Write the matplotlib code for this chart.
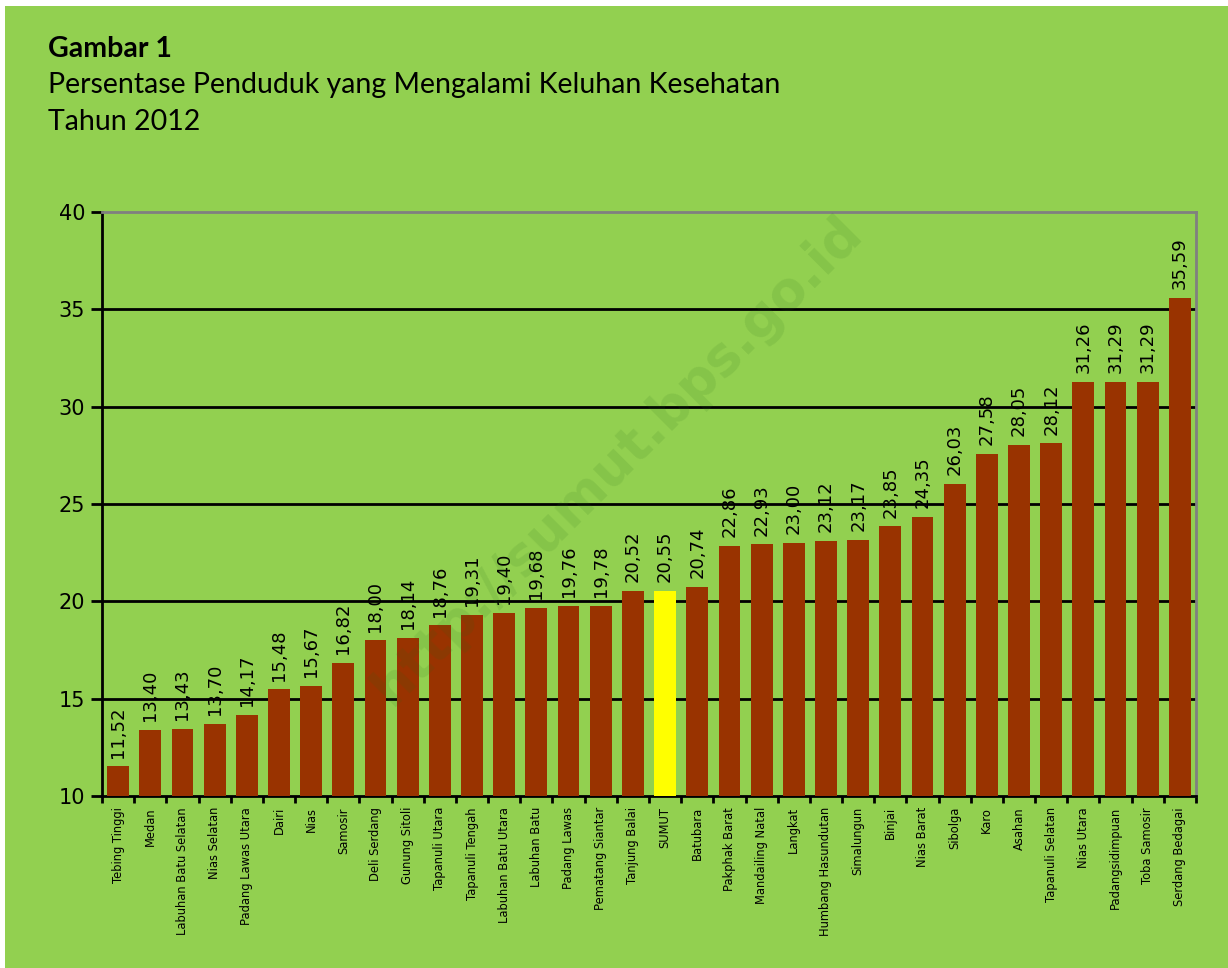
import matplotlib
matplotlib.use('Agg')
import matplotlib.pyplot as plt
from matplotlib.patches import Rectangle
import numpy as np

regions = ['Tebing Tinggi', 'Medan', 'Labuhan Batu Selatan', 'Nias Selatan',
           'Padang Lawas Utara', 'Dairi', 'Nias', 'Samosir', 'Deli Serdang',
           'Gunung Sitoli', 'Tapanuli Utara', 'Tapanuli Tengah',
           'Labuhan Batu Utara', 'Labuhan Batu', 'Padang Lawas',
           'Pematang Siantar', 'Tanjung Balai', 'SUMUT', 'Batubara',
           'Pakphak Barat', 'Mandailing Natal', 'Langkat', 'Humbang Hasundutan',
           'Simalungun', 'Binjai', 'Nias Barat', 'Sibolga', 'Karo', 'Asahan',
           'Tapanuli Selatan', 'Nias Utara', 'Padangsidimpuan', 'Toba Samosir',
           'Serdang Bedagai']
values = [11.52, 13.40, 13.43, 13.70, 14.17, 15.48, 15.67, 16.82, 18.00, 18.14,
          18.76, 19.31, 19.40, 19.68, 19.76, 19.78, 20.52, 20.55, 20.74, 22.86,
          22.93, 23.00, 23.12, 23.17, 23.85, 24.35, 26.03, 27.58, 28.05, 28.12,
          31.26, 31.29, 31.29, 35.59]
y_ticks = [10, 15, 20, 25, 30, 35, 40]

GREEN = '#92D050'
BAR = '#993300'
HIGHLIGHT = '#FFFF00'

fig = plt.figure(figsize=(12.28, 9.68), dpi=100, facecolor='white')
fig.patches.append(Rectangle((5 / 1228, 0), 1, 1 - 6 / 968, transform=fig.transFigure,
                             facecolor=GREEN, edgecolor='none', zorder=-10))

ax = fig.add_axes([102 / 1228, 1 - 796 / 968, (1196 - 102) / 1228, (796 - 212) / 968])
ax.set_facecolor(GREEN)

x = np.arange(len(regions))
colors = [HIGHLIGHT if r == 'SUMUT' else BAR for r in regions]
ax.bar(x, [v - 10 for v in values], bottom=10, width=0.68, color=colors, zorder=3)

for xi, v in zip(x, values):
    ax.text(xi, v + 0.45, f'{v:.2f}'.replace('.', ','), rotation=90,
            ha='center', va='bottom', fontsize=13, family='DejaVu Sans', zorder=4)

ax.set_ylim(10, 40)
ax.set_xlim(-0.5, len(regions) - 0.5)
ax.set_yticks(y_ticks)
ax.set_yticklabels([str(t) for t in y_ticks], fontsize=15)
for t in y_ticks[1:-1]:
    ax.axhline(t, color='black', lw=2, zorder=1)

ax.set_xticks(np.arange(len(regions) + 1) - 0.5)
ax.set_xticklabels([])
ax.set_xticks(x, minor=True)
ax.set_xticklabels(regions, minor=True, rotation=90, fontsize=8.3, va='top')
ax.tick_params(axis='x', which='minor', length=0, pad=8)
ax.tick_params(axis='x', which='major', length=5, width=2, direction='out')
ax.tick_params(axis='y', length=8, width=2, direction='out', pad=4)

ax.spines['left'].set_linewidth(2)
ax.spines['bottom'].set_linewidth(2)
ax.spines['top'].set_color('#808080')
ax.spines['right'].set_color('#808080')
ax.spines['top'].set_linewidth(2)
ax.spines['right'].set_linewidth(2)

# watermark, faint and see-through like the original
fig.text(618 / 1228, 1 - 460 / 968, 'http://sumut.bps.go.id', rotation=45,
         ha='center', va='center', fontsize=38, fontweight='bold',
         color='#256c16', alpha=0.12, zorder=5)

fig.text(48 / 1228, 1 - 57 / 968, 'Gambar 1', fontsize=20.5, fontweight='bold',
         family='Lato', va='baseline')
fig.text(48 / 1228, 1 - 93 / 968, 'Persentase Penduduk yang Mengalami Keluhan Kesehatan',
         fontsize=20.5, family='Lato', va='baseline')
fig.text(48 / 1228, 1 - 130 / 968, 'Tahun 2012', fontsize=20.5, family='Lato',
         va='baseline')

plt.savefig('out.png', dpi=100, facecolor='white')
